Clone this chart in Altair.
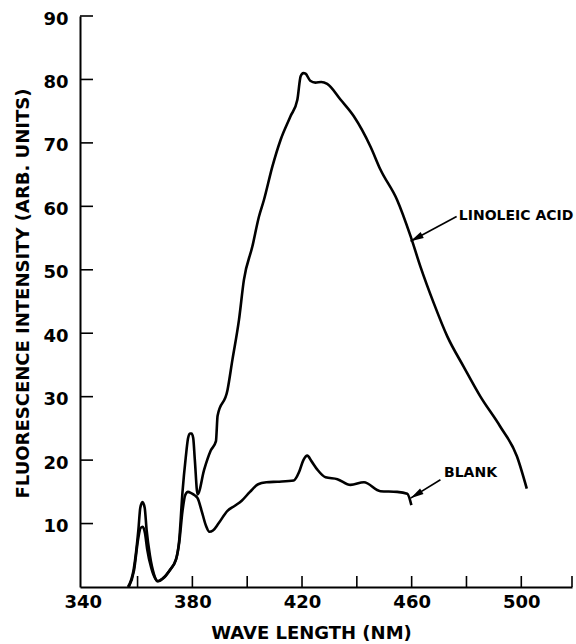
import math
import altair as alt
import pandas as pd

# ---------------- data ----------------
lin_nm = [356.5, 358.6, 360.3, 361.0, 361.8, 362.6, 363.3, 364.5, 366.0, 367.3, 369.0, 371.5,
          374.0, 375.2, 376.4, 377.6, 378.4, 379.1, 379.7, 380.3, 380.9, 381.9, 384.3, 386.7,
          388.6, 389.2, 392.8, 394.6, 397.0, 398.8, 401.9, 404.3, 406.1, 409.2, 412.2, 415.8,
          418.3, 419.5, 420.5, 421.3, 423.0, 424.9, 427.0, 429.2, 434.1, 438.9, 445.0, 448.6,
          454.7, 459.6, 463.2, 468.1, 473.0, 479.0, 485.1, 492.3, 498.4, 502.0]
lin_val = [0, 2.8, 9.0, 12.5, 13.4, 12.5, 9.0, 5.0, 2.0, 0.9, 1.3, 2.5,
           4.3, 7.4, 15.0, 20.5, 23.4, 24.2, 24.2, 23.5, 20.0, 14.6, 18.5, 21.5,
           23.0, 27.0, 31.0, 35.8, 42.1, 48.4, 53.7, 58.4, 61.0, 66.3, 70.5, 74.2,
           76.8, 80.5, 81.0, 80.9, 79.8, 79.5, 79.6, 79.3, 76.8, 74.2, 69.4, 65.8,
           61.0, 55.3, 50.5, 44.7, 39.5, 34.7, 30.0, 25.3, 20.6, 15.5]

blank_nm = [356.8, 358.7, 360.3, 361.1, 361.9, 362.7, 363.5, 365.0, 366.5, 367.5, 369.5, 372.0,
            374.0, 375.2, 376.4, 377.4, 378.4, 379.6, 381.0, 381.9, 383.5, 385.0, 386.2, 387.5,
            389.5, 392.8, 395.5, 398.0, 401.0, 404.0, 407.0, 411.0, 417.0, 419.0, 420.5, 421.9,
            423.5, 425.6, 428.6, 432.9, 437.7, 442.6, 448.6, 454.7, 458.4, 459.9]
blank_val = [0, 2.6, 7.8, 9.3, 9.5, 8.5, 6.0, 3.0, 1.3, 0.9, 1.4, 2.8,
             4.3, 7.0, 12.0, 14.5, 15.0, 14.8, 14.4, 14.0, 11.8, 9.6, 8.7, 8.9,
             10.0, 12.0, 12.8, 13.6, 15.0, 16.2, 16.5, 16.6, 16.8, 18.2, 20.0, 20.7,
             19.8, 18.5, 17.3, 17.0, 16.1, 16.5, 15.1, 15.0, 14.7, 12.9]

x_tick_values = [360, 380, 400, 420, 440, 460, 480, 500, 518.5]
x_label_values = [340, 380, 420, 460, 500]
y_tick_values = [10, 20, 30, 40, 50, 60, 70, 80, 90]

X_DOMAIN = [339, 518.5]
Y_DOMAIN = [0, 90]

# annotations (data coordinates)
ann_text = ["LINOLEIC ACID", "BLANK"]
ann_text_nm = [477.2, 471.8]
ann_text_val = [58.4, 17.9]
arrow_tail_nm = [476.4, 470.5]
arrow_tail_val = [58.4, 16.9]
arrow_tip_nm = [459.6, 459.6]
arrow_tip_val = [54.5, 14.0]

# ---------------- layout ----------------
W, H = 492, 571
PAD = {"left": 80, "top": 16, "right": 4, "bottom": 57}
FONT = "DejaVu Sans"

rows = []
for i, (x, y) in enumerate(zip(lin_nm, lin_val)):
    rows.append({"series": "LINOLEIC ACID", "idx": i, "nm": x, "val": y})
for i, (x, y) in enumerate(zip(blank_nm, blank_val)):
    rows.append({"series": "BLANK", "idx": i, "nm": x, "val": y})
df = pd.DataFrame(rows)

xs = alt.Scale(domain=X_DOMAIN, nice=False, zero=False)
ys = alt.Scale(domain=Y_DOMAIN, nice=False, zero=False)

X_AXIS = alt.Axis(values=x_label_values, title="WAVE LENGTH (NM)", format="d",
                  tickSize=0, labelPadding=6, titleX=231, titleY=46,
                  titleBaseline="middle", titleAlign="center")
Y_AXIS = alt.Axis(values=y_tick_values, title="FLUORESCENCE INTENSITY (ARB. UNITS)",
                  format="d", tickSize=0, labelPadding=12, labelOffset=3,
                  titleX=-57, titleY=277, titleAngle=-90,
                  titleBaseline="middle", titleAlign="center")


def xenc(field):
    return alt.X(field, scale=xs, axis=X_AXIS, title="WAVE LENGTH (NM)")


def yenc(field):
    return alt.Y(field, scale=ys, axis=Y_AXIS, title="FLUORESCENCE INTENSITY (ARB. UNITS)")


lines = alt.Chart(df).mark_line(color="black", strokeWidth=2.6, interpolate="monotone").encode(
    x=xenc("nm:Q"),
    y=yenc("val:Q"),
    detail="series:N",
    order="idx:Q",
)

xt = pd.DataFrame({"v": x_tick_values})
x_ticks = alt.Chart(xt).mark_rule(color="black", strokeWidth=1.6).encode(
    x=xenc("v:Q"),
    y=alt.value(H),
    y2=alt.value(H - 11),
)

yt = pd.DataFrame({"v": y_tick_values})
y_ticks = alt.Chart(yt).mark_rule(color="black", strokeWidth=1.6).encode(
    y=yenc("v:Q"),
    x=alt.value(0),
    x2=alt.value(13),
)

ann = pd.DataFrame({
    "text": ann_text, "tx": ann_text_nm, "ty": ann_text_val,
    "ax": arrow_tail_nm, "ay": arrow_tail_val,
    "bx": arrow_tip_nm, "by": arrow_tip_val,
})

px_nm = W / (X_DOMAIN[1] - X_DOMAIN[0])
px_val = H / (Y_DOMAIN[1] - Y_DOMAIN[0])


def arrow_angle(ax, ay, bx, by):
    dx = (bx - ax) * px_nm
    dy = -(by - ay) * px_val
    return (math.degrees(math.atan2(dx, -dy)) + 360) % 360


ann["angle"] = [arrow_angle(a, b, c, d) for a, b, c, d in
                zip(arrow_tail_nm, arrow_tail_val, arrow_tip_nm, arrow_tip_val)]

labels = alt.Chart(ann).mark_text(
    align="left", baseline="middle", font=FONT, fontWeight="bold", fontSize=14, color="black"
).encode(
    x=xenc("tx:Q"),
    y=yenc("ty:Q"),
    text="text:N",
)

shafts = alt.Chart(ann).mark_rule(color="black", strokeWidth=1.6).encode(
    x=xenc("ax:Q"),
    y=yenc("ay:Q"),
    x2="bx:Q",
    y2="by:Q",
)

heads = alt.Chart(ann).mark_point(
    shape="M0,0L-0.55,2.2L0.55,2.2Z", filled=True, color="black", opacity=1, size=144
).encode(
    x=xenc("bx:Q"),
    y=yenc("by:Q"),
    angle=alt.Angle("angle:Q", scale=None),
)

chart = alt.layer(lines, x_ticks, y_ticks, shafts, heads, labels).properties(
    width=W, height=H, padding=PAD, autosize="none", background="white"
).configure_view(stroke=None).configure_axis(
    grid=False,
    domainColor="black",
    domainWidth=2,
    labelFont=FONT,
    labelFontWeight="bold",
    labelFontSize=18,
    labelColor="black",
    titleFont=FONT,
    titleFontWeight="bold",
    titleFontSize=18,
    titleColor="black",
)

chart.save("out.html", embed_options={"renderer": "svg", "actions": False})
